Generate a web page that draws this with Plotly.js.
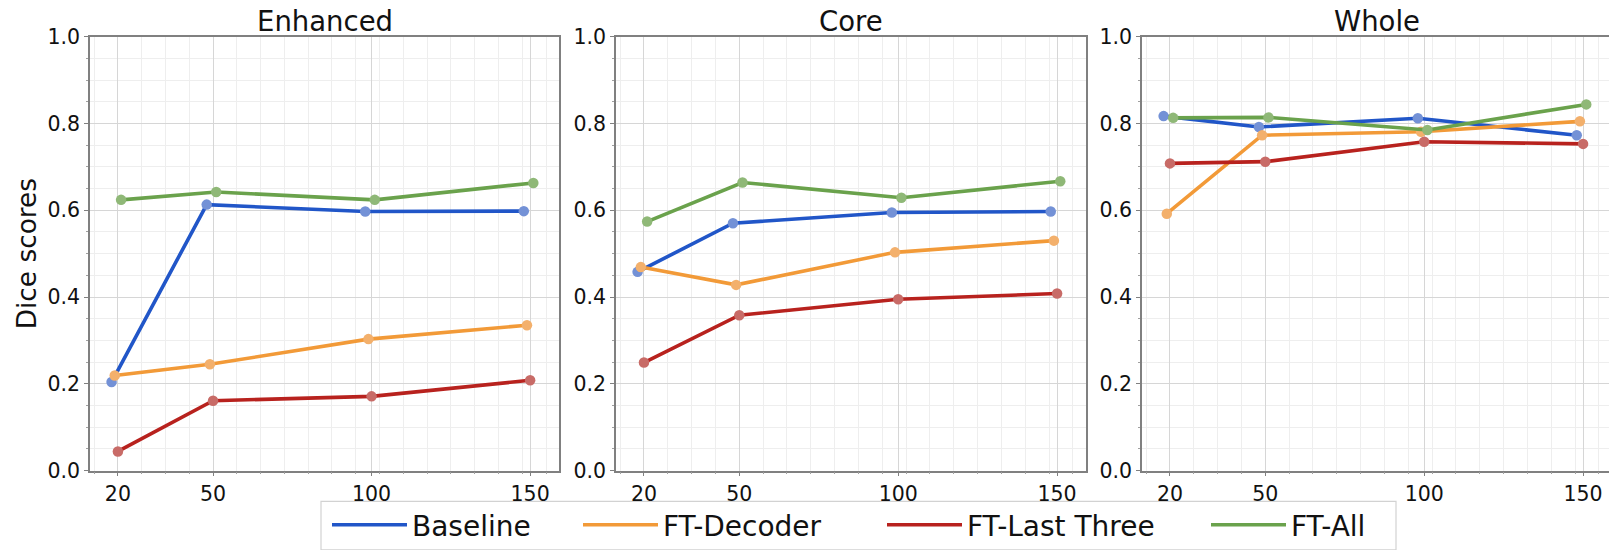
<!DOCTYPE html>
<html>
<head>
<meta charset="utf-8">
<script src="https://cdn.plot.ly/plotly-3.0.1.min.js"></script>
<style>
html,body{margin:0;padding:0;overflow:hidden;background:#fff;}
#chart{width:1613px;height:550px;}
</style>
</head>
<body>
<div id="chart"></div>
<script>
// ---- data ----
const trainSizes = [20, 50, 100, 150];
const tickLabels = ['20', '50', '100', '150'];
const panelTitles = ['Enhanced', 'Core', 'Whole'];
const seriesNames = ['Baseline', 'FT-Decoder', 'FT-Last Three', 'FT-All'];
const seriesDodge = [-2, -1, 0, 1];

const enhancedBaseline  = [0.204, 0.613, 0.597, 0.598];
const enhancedDecoder   = [0.219, 0.245, 0.303, 0.335];
const enhancedLastThree = [0.044, 0.161, 0.171, 0.208];
const enhancedAll       = [0.624, 0.642, 0.624, 0.663];

const coreBaseline  = [0.458, 0.570, 0.595, 0.597];
const coreDecoder   = [0.469, 0.428, 0.503, 0.530];
const coreLastThree = [0.249, 0.358, 0.395, 0.408];
const coreAll       = [0.574, 0.664, 0.629, 0.667];

const wholeBaseline  = [0.817, 0.792, 0.812, 0.773];
const wholeDecoder   = [0.592, 0.773, 0.781, 0.805];
const wholeLastThree = [0.708, 0.712, 0.758, 0.753];
const wholeAll       = [0.813, 0.814, 0.785, 0.844];

const panelData = [
  [enhancedBaseline, enhancedDecoder, enhancedLastThree, enhancedAll],
  [coreBaseline, coreDecoder, coreLastThree, coreAll],
  [wholeBaseline, wholeDecoder, wholeLastThree, wholeAll]
];

// ---- styles ----
const lineColors   = ['#2156c8', '#f29a38', '#b8221e', '#6aa24c'];
const markerColors = ['#7391d6', '#f3b06c', '#c86b67', '#8fb877'];
const W = 1613, H = 550;
const FONT = 'DejaVu Sans, sans-serif';
const xDomains = [[90/W, 559/W], [616/W, 1086/W], [1142/W, 1612/W]];
const yDomain = [76/H, 513/H];
const legendIds = ['legend', 'legend2', 'legend3', 'legend4'];
const legendX = [327, 578, 882, 1206];

const traces = [];
panelData.forEach((series, p) => {
  series.forEach((vals, s) => {
    const xs = trainSizes.map(v => v + seriesDodge[s]);
    const xa = p === 0 ? 'x' : 'x' + (p + 1);
    const ya = p === 0 ? 'y' : 'y' + (p + 1);
    traces.push({
      type: 'scatter', mode: 'lines', name: seriesNames[s],
      x: xs, y: vals, xaxis: xa, yaxis: ya,
      line: {color: lineColors[s], width: 3.6},
      legend: legendIds[s], showlegend: p === 0,
      hoverinfo: 'skip'
    });
    traces.push({
      type: 'scatter', mode: 'markers', name: seriesNames[s],
      x: xs, y: vals, xaxis: xa, yaxis: ya,
      marker: {color: markerColors[s], size: 10.5},
      legend: legendIds[s], showlegend: false,
      hoverinfo: 'x+y+name'
    });
  });
});

const layout = {
  width: W, height: H,
  margin: {l: 0, r: 0, t: 0, b: 0},
  paper_bgcolor: '#fff',
  plot_bgcolor: '#fff',
  font: {family: FONT, size: 20.5, color: '#111'},
  annotations: [],
  shapes: [{
    type: 'rect', xref: 'paper', yref: 'paper', layer: 'below',
    x0: 321/W, x1: 1396/W, y0: -4/H, y1: 45/H,
    line: {color: '#d2d2d2', width: 1.2}, fillcolor: '#ffffff'
  }]
};

panelTitles.forEach((t, p) => {
  const sfx = p === 0 ? '' : String(p + 1);
  layout['xaxis' + sfx] = {
    domain: xDomains[p],
    anchor: 'y' + sfx,
    range: [11.2, 159.1],
    tickmode: 'array', tickvals: trainSizes, ticktext: tickLabels,
    showgrid: true, gridcolor: '#d6d6d6', gridwidth: 1,
    showline: true, linecolor: '#808080', linewidth: 1.5, mirror: true,
    ticks: 'outside', ticklen: 4, tickcolor: '#808080', tickwidth: 1,
    minor: {tick0: 20, dtick: 7.5, showgrid: true, gridcolor: '#eeeeee', gridwidth: 1,
            ticks: 'outside', ticklen: 2, tickcolor: '#a0a0a0'},
    zeroline: false,
    tickfont: {family: FONT, size: 20.5, color: '#111'}
  };
  layout['yaxis' + sfx] = {
    domain: yDomain,
    anchor: 'x' + sfx,
    range: [0, 1],
    tickmode: 'linear', tick0: 0, dtick: 0.2, tickformat: '.1f',
    showgrid: true, gridcolor: '#d6d6d6', gridwidth: 1,
    showline: true, linecolor: '#808080', linewidth: 1.5, mirror: true,
    ticks: 'outside', ticklen: 4, tickcolor: '#808080', tickwidth: 1,
    minor: {dtick: 0.05, showgrid: true, gridcolor: '#eeeeee', gridwidth: 1,
            ticks: 'outside', ticklen: 2, tickcolor: '#a0a0a0'},
    zeroline: false,
    tickfont: {family: FONT, size: 20.5, color: '#111'}
  };
  layout.annotations.push({
    text: t, xref: 'paper', yref: 'paper',
    x: (xDomains[p][0] + xDomains[p][1]) / 2, y: (H - 39) / H,
    xanchor: 'center', yanchor: 'bottom', showarrow: false,
    font: {family: FONT, size: 27.5, color: '#111'}
  });
});
layout.yaxis.title = {text: 'Dice scores', font: {family: FONT, size: 26.4, color: '#111'}, standoff: 3};

legendIds.forEach((id, i) => {
  layout[id] = {
    orientation: 'h', x: legendX[i] / W, xanchor: 'left',
    y: 21 / H, yanchor: 'middle',
    bgcolor: 'rgba(0,0,0,0)', borderwidth: 0,
    itemwidth: 75,
    font: {family: FONT, size: 28, color: '#111'}
  };
});

Plotly.newPlot('chart', traces, layout, {displayModeBar: false, responsive: false});
</script>
</body>
</html>
